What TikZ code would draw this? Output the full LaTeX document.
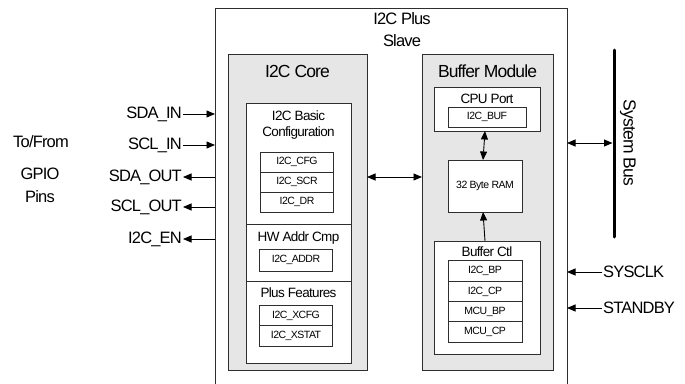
\documentclass[tikz,border=0pt]{standalone}
\usepackage{fontspec}
\setmainfont[LetterSpace=-5]{Liberation Sans}
\usetikzlibrary{arrows.meta}
\definecolor{linecol}{HTML}{2E2E2E}
\definecolor{modfill}{HTML}{E6E6E6}
\tikzset{
  box/.style={draw=linecol, line width=0.9pt, inner sep=0pt, outer sep=0pt},
  module/.style={box, fill=modfill},
  wbox/.style={box, fill=white},
  reg/.style={box, fill=white, font=\fontsize{10.5}{12}\selectfont},
  lbl/.style={inner sep=0pt, font=\fontsize{16.5}{19}\selectfont},
  sub/.style={inner sep=0pt, font=\fontsize{13.5}{16}\selectfont, align=center},
  big/.style={inner sep=0pt, font=\fontsize{17.5}{20}\selectfont},
  arr/.style={-{Triangle[length=8.5pt,width=7pt]}, line width=0.9pt, draw=black},
  arrboth/.style={{Triangle[length=8.5pt,width=7pt]}-{Triangle[length=8.5pt,width=7pt]}, line width=0.9pt, draw=black},
}
\begin{document}
\begin{tikzpicture}[x=1pt,y=-1pt]
\useasboundingbox (0,0) rectangle (685,383);
% outer
\node[box, minimum width=352, minimum height=392] (outer) at (391,204) {};
\node[lbl, align=center, font=\fontsize{16.5}{22}\selectfont] (title) at (402,30) {I2C Plus\\Slave};
% I2C core
\node[module, minimum width=139, minimum height=316] (core) at (297.5,212) {};
\node[big] (coretitle) at (297.5,71) {I2C Core};
\node[wbox, minimum width=105, minimum height=121] (basic) at (298.5,163.5) {};
\node[wbox, minimum width=105, minimum height=57] (hw) at (298.5,252.5) {};
\node[wbox, minimum width=105, minimum height=82] (plus) at (298.5,322) {};
\node[sub] (basict) at (298.5,125) {I2C Basic\\Configuration};
\node[sub] (hwt) at (298.5,238) {HW Addr Cmp};
\node[sub] (plust) at (298.5,293) {Plus Features};
\node[reg, minimum width=73, minimum height=20] (cfg) at (297,162) {I2C\_CFG};
\node[reg, minimum width=73, minimum height=20] (scr) at (297,182) {I2C\_SCR};
\node[reg, minimum width=73, minimum height=20] (dr) at (297,202) {I2C\_DR};
\node[reg, minimum width=73, minimum height=22] (addr) at (296,260) {I2C\_ADDR};
\node[reg, minimum width=73, minimum height=20.5] (xcfg) at (296,315.5) {I2C\_XCFG};
\node[reg, minimum width=73, minimum height=20.5] (xstat) at (296,336) {I2C\_XSTAT};
% Buffer module
\node[module, minimum width=131, minimum height=316] (buffer) at (487.5,212) {};
\node[big] (buftitle) at (487.5,71) {Buffer Module};
\node[wbox, minimum width=106, minimum height=44] (cpu) at (487,109) {};
\node[sub] (cput) at (487,99) {CPU Port};
\node[reg, minimum width=78, minimum height=20] (buf) at (487,117) {I2C\_BUF};
\node[reg, minimum width=74, minimum height=52] (ram) at (485,186) {32 Byte RAM};
\node[wbox, minimum width=106, minimum height=113] (ctl) at (487,297.5) {};
\node[sub] (ctlt) at (487,252) {Buffer Ctl};
\node[reg, minimum width=74, minimum height=20.5] (bp) at (485,271) {I2C\_BP};
\node[reg, minimum width=74, minimum height=20.5] (cp) at (485,291.5) {I2C\_CP};
\node[reg, minimum width=74, minimum height=20.5] (mbp) at (485,312) {MCU\_BP};
\node[reg, minimum width=74, minimum height=20.5] (mcp) at (485,332) {MCU\_CP};
\draw[arrboth] ([xshift=-2]cpu.south) -- ([xshift=-2]ram.north);
\draw[arr] ([xshift=-2]ctl.north) -- ([xshift=-2]ram.south);
% core <-> buffer
\coordinate (midy) at (0,177);
\draw[arrboth] (core.east |- midy) -- (buffer.west |- midy);
% left signals
\node[lbl, anchor=east] (sdain) at (182,114) {SDA\_IN};
\node[lbl, anchor=east] (sclin) at (182,145) {SCL\_IN};
\node[lbl, anchor=east] (sdaout) at (182,177) {SDA\_OUT};
\node[lbl, anchor=east] (sclout) at (182,207) {SCL\_OUT};
\node[lbl, anchor=east] (i2cen) at (182,239) {I2C\_EN};
\draw[arr] ([xshift=1]sdain.east) -- (sdain.east -| outer.west);
\draw[arr] ([xshift=1]sclin.east) -- (sclin.east -| outer.west);
\draw[arr] (sdaout.east -| outer.west) -- ([xshift=1]sdaout.east);
\draw[arr] (sclout.east -| outer.west) -- ([xshift=1]sclout.east);
\draw[arr] (i2cen.east -| outer.west) -- ([xshift=1]i2cen.east);
\node[lbl] (tofrom) at (41,142) {To/From};
\node[lbl] (gpio) at (40,174) {GPIO};
\node[lbl] (pins) at (40,197) {Pins};
% right side
\coordinate (bustop) at (614,50);
\coordinate (busbot) at (614,237);
\coordinate (busmid) at (614,143);
\draw[line width=3pt, line cap=round] (bustop) -- (busbot);
\node[lbl, rotate=-90, font=\fontsize{17.5}{20}\selectfont] (bust) at (628,143) {System Bus};
\draw[arrboth, shorten >=1.5pt] (outer.east |- busmid) -- (busmid);
\node[lbl, anchor=west] (sysclk) at (603,272) {SYSCLK};
\node[lbl, anchor=west] (standby) at (603,308) {STANDBY};
\draw[arr] ([xshift=-1]sysclk.west) -- (sysclk.west -| outer.east);
\draw[arr] ([xshift=-1]standby.west) -- (standby.west -| outer.east);
\end{tikzpicture}
\end{document}
